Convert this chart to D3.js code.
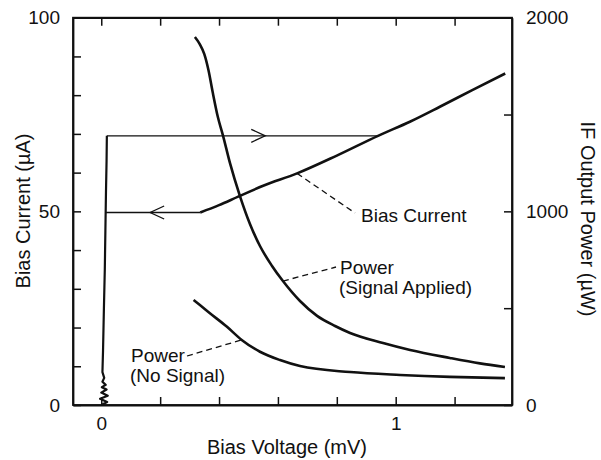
<!DOCTYPE html>
<html>
<head>
<meta charset="utf-8">
<script src="https://cdn.jsdelivr.net/npm/d3@7/dist/d3.min.js"></script>
<style>
  html, body { margin: 0; padding: 0; background: #fff; }
  svg { display: block; }
  text { font-family: "Liberation Sans", Arial, Helvetica, sans-serif; fill: #111; }
</style>
</head>
<body>
<svg id="chart" width="601" height="460"></svg>
<script>
// ---------------- data ----------------
// Bias voltage (mV), bias current (µA): supercurrent branch near V = 0 (noisy at the bottom)
const superV = [0.000, 0.020, -0.004, 0.022, 0.000, 0.018, 0.002, 0.015, 0.004, 0.010, 0.004, 0.006, 0.009, 0.012, 0.014, 0.016, 0.018, 0.019];
const superI = [0,     0.8,   1.6,    2.4,   3.2,   4.0,   4.6,   5.2,   6.0,   7.0,   8.5,   14,    25,    35,    45,    55,    63,    69.5];
// resistive branch of the bias current
const biasV = [0.336, 0.40, 0.465, 0.55, 0.665, 0.80, 0.94, 1.05, 1.15, 1.26, 1.372];
const biasI = [49.7,  51.6, 53.8,  56.6, 59.8,  64.4, 69.5, 73.2, 77.0, 81.3, 85.6];
// switching (hysteresis) jumps
const jumpUpI = 69.5, jumpUpV = [0.019, 0.94], jumpUpArrowV = 0.557;
const jumpDownI = 49.7, jumpDownV = [0.336, 0.015], jumpDownArrowV = 0.166;
// IF output power (µW), signal applied
const sigV = [0.318, 0.335, 0.350, 0.364, 0.379, 0.396, 0.413, 0.437, 0.471, 0.505, 0.539, 0.580, 0.617, 0.675, 0.733, 0.794, 0.845, 0.957, 1.049, 1.184, 1.286, 1.371];
const sigP = [1900,  1862,  1812,  1730,  1611,  1487,  1394,  1250,  1079,  935,   821,   718,   640,   537,   460,   408,   372,   320,   284,   243,   215,   196];
// IF output power (µW), no signal
const noV = [0.3135, 0.335, 0.369, 0.426, 0.477, 0.539, 0.607, 0.675, 0.845, 1.015, 1.184, 1.371];
const noP = [542,    516,   474,   405,   336,   275,   232,   201,   170,   155,   145,   139];
// ticks
const xTicks = [0, 0.2, 0.4, 0.6, 0.8, 1.0, 1.2];
const xLabels = [0, 1];
const yLTicks = [0, 10, 20, 30, 40, 50, 60, 70, 80, 90, 100];
const yLLabels = [0, 50, 100];
const yRTicks = [0, 500, 1000, 1500, 2000];
const yRLabels = [0, 1000, 2000];

// ---------------- layout ----------------
const svg = d3.select("#chart");
const L = 73, R = 512, T = 17.7, B = 405;
const x = d3.scaleLinear().domain([-0.096, 1.395]).range([L, R]);
const yL = d3.scaleLinear().domain([0, 100]).range([B, T]);
const yR = d3.scaleLinear().domain([0, 2000]).range([B, T]);
const FS = 19, FT = 20;

function fmt(labels) { return d => labels.includes(d) ? String(d) : ""; }
function styleAxis(g) {
  g.selectAll("path.domain").attr("stroke", "#111").attr("stroke-width", 1.8);
  g.selectAll(".tick line").attr("stroke", "#111").attr("stroke-width", 1.5);
  g.selectAll(".tick text").attr("font-size", FS).attr("fill", "#111")
    .attr("font-family", '"Liberation Sans", Arial, Helvetica, sans-serif');
}

svg.append("g").attr("transform", `translate(0,${B})`)
  .call(d3.axisBottom(x).tickValues(xTicks).tickFormat(fmt(xLabels)).tickSizeInner(-8).tickSizeOuter(0).tickPadding(12))
  .call(styleAxis);
svg.append("g").attr("transform", `translate(0,${T})`)
  .call(d3.axisTop(x).tickValues(xTicks).tickFormat("").tickSizeInner(-8).tickSizeOuter(0))
  .call(styleAxis);
svg.append("g").attr("transform", `translate(${L},0)`)
  .call(d3.axisLeft(yL).tickValues(yLTicks).tickFormat(fmt(yLLabels)).tickSizeInner(-8).tickSizeOuter(0).tickPadding(13))
  .call(styleAxis);
svg.append("g").attr("transform", `translate(${R},0)`)
  .call(d3.axisRight(yR).tickValues(yRTicks).tickFormat(fmt(yRLabels)).tickSizeInner(-8).tickSizeOuter(0).tickPadding(14))
  .call(styleAxis);
// frame (close the box)
svg.append("rect").attr("x", L).attr("y", T).attr("width", R - L).attr("height", B - T)
  .attr("fill", "none").attr("stroke", "#111").attr("stroke-width", 1.8);

// ---------------- curves ----------------
const lineL = d3.line().x(d => x(d[0])).y(d => yL(d[1]));
const lineR = d3.line().x(d => x(d[0])).y(d => yR(d[1])).curve(d3.curveMonotoneX);
const zip = (a, b) => a.map((v, i) => [v, b[i]]);

svg.append("path").datum(zip(superV, superI)).attr("d", lineL)
  .attr("fill", "none").attr("stroke", "#111").attr("stroke-width", 2.2).attr("stroke-linejoin", "round");
svg.append("path").datum(zip(biasV, biasI)).attr("d", lineL.curve(d3.curveMonotoneX))
  .attr("fill", "none").attr("stroke", "#111").attr("stroke-width", 2.6).attr("stroke-linejoin", "round");
svg.append("path").datum(zip(sigV, sigP)).attr("d", lineR)
  .attr("fill", "none").attr("stroke", "#111").attr("stroke-width", 2.6).attr("stroke-linejoin", "round");
svg.append("path").datum(zip(noV, noP)).attr("d", lineR)
  .attr("fill", "none").attr("stroke", "#111").attr("stroke-width", 2.6).attr("stroke-linejoin", "round");

// jump lines with open arrowheads
function jump(vs, I, tipV, dir) {
  svg.append("line").attr("x1", x(vs[0])).attr("x2", x(vs[1])).attr("y1", yL(I)).attr("y2", yL(I))
    .attr("stroke", "#111").attr("stroke-width", 1.3);
  const tx = x(tipV), ty = yL(I), len = 14, h = 6.5;
  svg.append("path")
    .attr("d", `M${tx - dir * len},${ty - h} L${tx},${ty} L${tx - dir * len},${ty + h}`)
    .attr("fill", "none").attr("stroke", "#111").attr("stroke-width", 1.3);
}
jump(jumpUpV, jumpUpI, jumpUpArrowV, 1);
jump(jumpDownV, jumpDownI, jumpDownArrowV, -1);

// ---------------- annotations ----------------
function leader(x1, y1, x2, y2) {
  svg.append("line").attr("x1", x1).attr("y1", y1).attr("x2", x2).attr("y2", y2)
    .attr("stroke", "#111").attr("stroke-width", 1.3).attr("stroke-dasharray", "6,4");
}
// Bias Current label: leader from the curve at V ≈ 0.665
leader(x(0.665), yL(59.8), 355, 213);
svg.append("text").attr("x", 361).attr("y", 222).attr("font-size", FS).text("Bias Current");
// Power (Signal Applied)
leader(x(0.617), yR(640), 336, 267);
svg.append("text").attr("x", 340).attr("y", 274).attr("font-size", FS).text("Power");
svg.append("text").attr("x", 339).attr("y", 294).attr("font-size", FS).text("(Signal Applied)");
// Power (No Signal)
leader(187, 356, x(0.477), yR(336));
svg.append("text").attr("x", 131).attr("y", 362).attr("font-size", FS).text("Power");
svg.append("text").attr("x", 130).attr("y", 382).attr("font-size", FS).text("(No Signal)");

// ---------------- axis titles ----------------
svg.append("text").attr("x", 287).attr("y", 454).attr("text-anchor", "middle")
  .attr("font-size", FT).text("Bias Voltage (mV)");
svg.append("text").attr("transform", `translate(30,211) rotate(-90)`).attr("text-anchor", "middle")
  .attr("font-size", FT).text("Bias Current (µA)");
svg.append("text").attr("transform", `translate(581,219) rotate(90)`).attr("text-anchor", "middle")
  .attr("font-size", FT).text("IF Output Power (µW)");
</script>
</body>
</html>
